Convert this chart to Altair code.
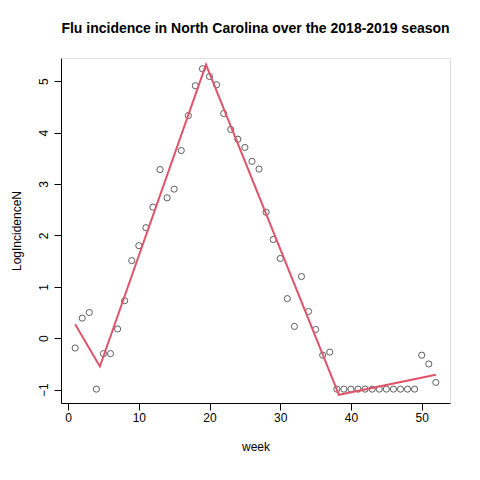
import altair as alt
import pandas as pd

weeks = list(range(1, 53))
log_inc = [-0.19, 0.39, 0.5, -0.99, -0.3, -0.3, 0.18, 0.73, 1.51, 1.8,
           2.15, 2.55, 3.28, 2.73, 2.9, 3.65, 4.33, 4.91, 5.24, 5.09,
           4.93, 4.37, 4.06, 3.87, 3.71, 3.44, 3.29, 2.45, 1.92, 1.55,
           0.77, 0.23, 1.2, 0.52, 0.17, -0.33, -0.27, -0.99, -0.99, -0.99,
           -0.99, -0.99, -0.99, -0.99, -0.99, -0.99, -0.99, -0.99, -0.99, -0.33,
           -0.5, -0.86]
fit_week = [1, 4.5, 19.5, 38.3, 52]
fit_val = [0.27, -0.55, 5.32, -1.1, -0.71]

pts = pd.DataFrame({"week": weeks, "LogIncidenceN": log_inc})
fit = pd.DataFrame({"week": fit_week, "LogIncidenceN": fit_val})

xs = alt.Scale(domain=[-1, 54], nice=False, zero=False)
ys = alt.Scale(domain=[-1.26, 5.45], nice=False, zero=False)
xax = alt.Axis(values=[0, 10, 20, 30, 40, 50], grid=False, title="week", tickColor="black",
               domainColor="black", labelFontSize=12, titleFontSize=12, titleFontWeight="normal",
               labelColor="black", titleColor="black", tickSize=7, titlePadding=18)
yax = alt.Axis(values=[-1, 0, 1, 2, 3, 4, 5], grid=False, title="LogIncidenceN", tickColor="black",
               domainColor="black", labelFontSize=12, titleFontSize=12, titleFontWeight="normal",
               labelAngle=-90, labelAlign="center", labelBaseline="bottom", labelPadding=4,
               labelColor="black", titleColor="black", tickSize=7, titlePadding=14)

points = alt.Chart(pts).mark_point(shape="circle", size=38, color="black", strokeWidth=0.9, filled=False).encode(
    x=alt.X("week:Q", scale=xs, axis=xax),
    y=alt.Y("LogIncidenceN:Q", scale=ys, axis=yax),
)
line = alt.Chart(fit).mark_line(color="#DF536B", strokeWidth=2).encode(
    x=alt.X("week:Q", scale=xs), y=alt.Y("LogIncidenceN:Q", scale=ys)
)

chart = (points + line).properties(
    width=389, height=345,
    title=alt.TitleParams("Flu incidence in North Carolina over the 2018-2019 season",
                          fontSize=14, fontWeight="bold", font="Liberation Sans", offset=22,
                          anchor="middle"),
    padding={"left": 2, "top": 14, "right": 5, "bottom": 5},
).configure_view(stroke="black", strokeWidth=1).configure(font="Liberation Sans")

chart.save("out.html", embed_options={"renderer": "svg", "actions": False})
